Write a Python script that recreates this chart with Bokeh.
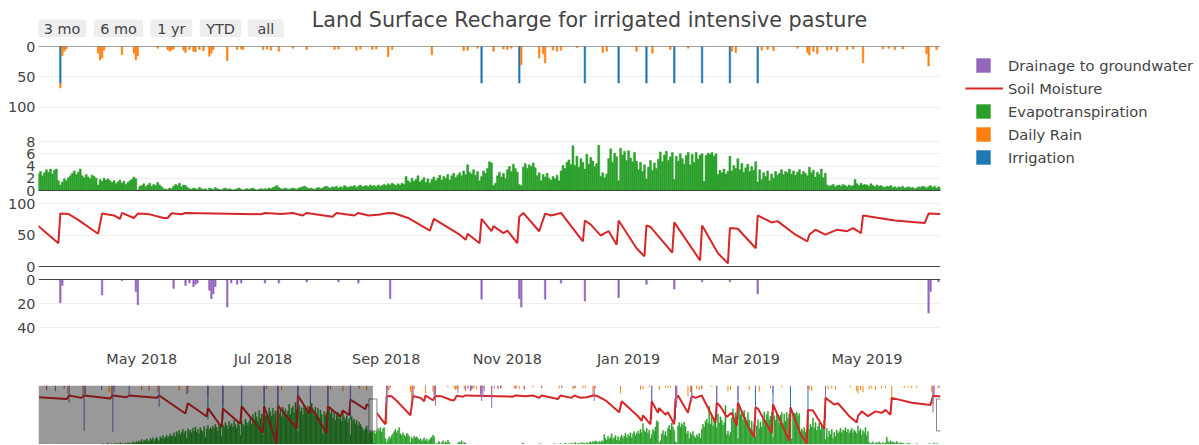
import pandas as pd
from bokeh.plotting import figure
from bokeh.layouts import column, row
from bokeh.models import (Range1d, FixedTicker, Span, BoxAnnotation, Legend,
                          LegendItem, DatetimeTickFormatter, Grid)
from bokeh.core.properties import value
from bokeh.embed import file_html
from bokeh.resources import INLINE

# ---------------------------------------------------------------- data
chart_title = "Land Surface Recharge for irrigated intensive pasture"
selector_labels = ["3 mo", "6 mo", "1 yr", "YTD", "all"]
series_names = ["Drainage to groundwater", "Soil Moisture", "Evapotranspiration",
                "Daily Rain", "Irrigation"]

data_start = "2017-06-16"
view_start = "2018-03-10"
view_end = "2019-06-07"

x_tick_months = ["2018-05-01", "2018-07-01", "2018-09-01", "2018-11-01",
                 "2019-01-01", "2019-03-01", "2019-05-01"]
rain_ticks = [0, 50, 100]
et_ticks = [0, 2, 4, 6, 8]
sm_ticks = [0, 50, 100]
drain_ticks = [0, 20, 40]

# daily evapotranspiration (mm), one list per month
et_2017_06 = [0.4, 0.3, 0.5, 0.2, 0.3, 0.4, 0.6, 0.3, 0.2, 0.4, 0.5, 0.3, 0.4, 0.2, 0.3]
et_2017_07 = [0.3, 0.5, 0.4, 0.2, 0.3, 0.6, 0.4, 0.3, 0.5, 0.2, 0.4, 0.3, 0.5, 0.6, 0.3,
              0.2, 0.4, 0.5, 0.3, 0.4, 0.6, 0.3, 0.2, 0.4, 0.5, 0.3, 0.4, 0.6, 0.5, 0.3, 0.4]
et_2017_08 = [0.5, 0.4, 0.6, 0.3, 0.5, 0.7, 0.4, 0.6, 0.5, 0.8, 0.4, 0.6, 0.7, 0.5, 0.6,
              0.8, 0.5, 0.7, 0.6, 0.9, 0.6, 0.7, 0.5, 0.8, 0.6, 0.9, 0.7, 0.8, 0.6, 1.0, 0.7]
et_2017_09 = [0.9, 1.1, 0.8, 1.2, 1.0, 1.4, 0.9, 1.3, 1.1, 1.5, 1.2, 1.0, 1.6, 1.3, 1.7,
              1.1, 1.5, 1.8, 1.4, 1.2, 1.9, 1.6, 2.1, 1.5, 1.8, 2.2, 1.7, 2.0, 2.4, 1.9]
et_2017_10 = [2.1, 2.6, 1.9, 2.8, 2.4, 3.0, 2.2, 2.7, 3.2, 2.5, 2.9, 1.6, 3.3, 2.8, 3.1,
              2.6, 3.4, 2.9, 3.6, 2.7, 3.2, 2.4, 3.5, 3.0, 2.8, 3.7, 1.8, 3.3, 3.9, 3.1, 3.5]
et_2017_11 = [3.2, 3.8, 3.4, 4.1, 3.6, 2.9, 4.3, 3.7, 1.9, 4.0, 3.5, 4.4, 3.9, 3.3, 4.6,
              3.8, 4.2, 3.6, 4.8, 4.0, 3.4, 4.5, 3.9, 2.1, 4.7, 4.1, 3.7, 5.0, 4.4, 3.9]
et_2017_12 = [4.6, 5.3, 4.1, 5.8, 4.9, 6.2, 5.4, 4.7, 6.5, 5.1, 5.9, 2.3, 6.8, 5.6, 6.1,
              5.2, 7.0, 6.3, 5.5, 6.9, 5.8, 6.4, 2.6, 7.3, 6.0, 6.7, 5.4, 7.1, 6.2, 6.8, 5.9]
et_2018_01 = [6.4, 7.6, 5.8, 6.9, 7.2, 6.1, 7.9, 6.6, 2.8, 7.4, 6.3, 7.0, 5.7, 7.5, 6.8,
              6.2, 7.3, 5.9, 6.7, 7.8, 6.4, 5.6, 7.1, 6.0, 6.9, 5.3, 6.6, 5.8, 2.4, 6.3, 5.7]
et_2018_02 = [6.1, 5.4, 6.8, 5.9, 6.5, 5.2, 6.3, 4.8, 5.7, 6.2, 5.0, 5.8, 4.6, 6.0, 5.3,
              4.9, 5.6, 4.4, 5.1, 2.2, 5.4, 4.7, 5.0, 4.2, 4.8, 3.9, 4.5, 4.1]
et_2018_03 = [3.6, 3.2, 2.9, 3.4, 3.8, 3.1, 2.6, 3.3, 2.8, 2.6, 3.1, 2.4, 2.9, 3.4, 3.0,
              3.5, 2.7, 3.3, 3.5, 1.6, 0.9, 1.4, 1.9, 1.6, 2.1, 2.4, 2.8, 3.2, 2.6, 3.0, 3.5]
et_2018_04 = [2.4, 2.1, 2.6, 2.2, 1.9, 2.5, 2.3, 2.0, 0.9, 1.8, 1.5, 2.0, 1.7, 1.9, 1.6,
              1.3, 1.6, 1.1, 1.4, 1.7, 1.2, 1.5, 1.0, 1.3, 1.6, 1.8, 2.2, 1.9, 0.1, 0.7]
et_2018_05 = [0.8, 1.1, 0.6, 0.9, 1.2, 0.7, 1.0, 0.8, 1.3, 0.9, 0.6, 0.3, 0.2, 0.2, 0.4,
              0.3, 0.7, 1.0, 0.8, 1.2, 0.6, 0.9, 0.8, 0.5, 0.3, 0.2, 0.4, 0.3, 0.2, 0.5, 0.3]
et_2018_06 = [0.2, 0.3, 0.1, 0.4, 0.3, 0.2, 0.5, 0.3, 0.2, 0.1, 0.3, 0.4, 0.2, 0.3, 0.2,
              0.1, 0.2, 0.3, 0.4, 0.2, 0.1, 0.2, 0.3, 0.2, 0.3, 0.4, 0.2, 0.1, 0.2, 0.3]
et_2018_07 = [0.2, 0.3, 0.2, 0.4, 0.3, 0.5, 0.6, 0.8, 0.5, 0.3, 0.2, 0.4, 0.3, 0.2, 0.3,
              0.4, 0.3, 0.2, 0.4, 0.5, 0.6, 0.7, 0.5, 0.3, 0.4, 0.3, 0.2, 0.4, 0.5, 0.3, 0.4]
et_2018_08 = [0.6, 0.7, 0.5, 0.4, 0.6, 0.5, 0.7, 0.4, 0.6, 0.5, 0.8, 0.6, 0.5, 0.7, 0.6,
              0.8, 0.5, 0.7, 0.9, 0.6, 0.7, 0.8, 0.6, 0.9, 0.7, 0.8, 0.6, 0.9, 0.7, 0.8, 1.0]
et_2018_09 = [0.8, 1.1, 0.9, 1.2, 1.0, 0.8, 1.1, 0.9, 1.2, 1.0, 2.3, 1.6, 1.3, 2.0, 1.5,
              1.8, 2.4, 1.4, 1.7, 2.1, 1.3, 1.9, 1.2, 1.8, 2.2, 1.6, 2.0, 2.5, 1.7, 2.3]
et_2018_10 = [2.0, 2.6, 1.7, 2.4, 2.8, 2.1, 2.5, 2.9, 2.4, 3.2, 2.6, 4.2, 3.0, 2.7, 3.4,
              2.5, 3.1, 1.6, 2.3, 3.2, 2.8, 3.6, 4.7, 4.5, 0.8, 1.2, 2.4, 3.0, 2.2, 2.8, 2.0]
et_2018_11 = [3.4, 3.9, 3.1, 4.3, 3.6, 3.0, 1.0, 0.8, 3.8, 4.4, 3.6, 4.2, 3.9, 4.5, 3.7,
              2.4, 2.9, 1.6, 2.6, 2.2, 2.8, 2.0, 1.7, 2.3, 1.9, 2.5, 1.6, 3.2, 4.1, 3.6]
et_2018_12 = [4.6, 5.0, 4.2, 7.3, 4.1, 5.6, 3.8, 5.2, 4.6, 3.5, 5.9, 4.3, 5.4, 4.8, 3.9,
              4.4, 7.4, 2.3, 2.9, 2.1, 2.7, 5.2, 6.8, 4.6, 6.1, 5.5, 1.6, 6.9, 5.8, 6.4, 4.9]
et_2019_01 = [6.5, 5.3, 4.7, 6.2, 4.8, 3.4, 4.6, 3.1, 4.2, 1.9, 3.8, 4.9, 3.3, 4.5, 3.6,
              5.1, 6.3, 4.7, 5.8, 6.4, 4.9, 5.5, 6.2, 1.8, 5.6, 4.8, 6.0, 5.2, 4.3, 5.7, 6.2]
et_2019_02 = [4.2, 5.9, 4.6, 6.2, 5.1, 5.8, 6.0, 1.5, 5.7, 6.1, 5.9, 6.2, 5.6, 6.0, 2.6,
              3.3, 2.9, 3.5, 2.7, 3.1, 5.6, 3.2, 4.1, 3.6, 5.2, 3.4, 4.4, 3.0]
et_2019_03 = [3.7, 4.3, 3.1, 3.9, 3.3, 4.7, 1.4, 3.4, 1.8, 2.9, 2.3, 3.2, 1.6, 2.7, 2.0,
              3.1, 2.5, 2.8, 3.4, 2.6, 3.1, 2.9, 3.5, 2.7, 3.2, 2.5, 3.0, 3.4, 2.6, 3.1, 2.8]
et_2019_04 = [2.4, 3.8, 2.9, 3.3, 2.2, 3.0, 2.6, 3.5, 2.1, 2.8, 0.9, 0.7, 0.8, 1.0, 0.6,
              0.8, 0.9, 0.7, 1.0, 0.8, 0.6, 0.9, 0.7, 0.8, 1.8, 1.1, 0.8, 1.2, 0.9, 1.0]
et_2019_05 = [0.9, 0.7, 1.1, 0.8, 0.6, 0.9, 0.7, 0.8, 0.6, 0.5, 0.7, 0.6, 0.8, 0.5, 0.6,
              0.4, 0.6, 0.5, 0.7, 0.4, 0.5, 0.6, 0.4, 0.5, 0.3, 0.4, 0.6, 0.5, 0.7, 0.6, 0.4]
et_2019_06 = [0.6, 0.8, 0.5, 0.7, 0.4, 0.6, 0.5]

# irrigation events (mm)
irr_dates = ["2017-10-29", "2017-11-10", "2017-11-25", "2017-12-13", "2017-12-24",
             "2018-01-09", "2018-01-19", "2018-02-02", "2018-02-20", "2018-03-21",
             "2018-10-19", "2018-11-07", "2018-12-10", "2018-12-27", "2019-01-10",
             "2019-01-24", "2019-02-07", "2019-02-21", "2019-03-07"]
irr_mm = [60, 60, 60, 60, 60, 60, 60, 60, 60, 60,
          60, 60, 60, 60, 60, 60, 60, 60, 60]

# daily rain events (mm)
rain_dates = ["2017-06-22", "2017-07-09", "2017-07-21", "2017-08-11", "2017-08-13",
              "2017-09-06", "2017-09-12", "2017-09-19", "2017-10-06", "2017-10-12",
              "2017-12-15", "2017-12-27", "2018-02-04", "2018-02-14", "2018-02-27",
              "2018-03-05", "2018-03-21", "2018-03-22", "2018-03-23", "2018-03-24",
              "2018-04-09", "2018-04-10", "2018-04-11", "2018-04-12", "2018-04-21",
              "2018-04-27", "2018-04-28", "2018-04-29", "2018-05-09", "2018-05-14",
              "2018-05-15", "2018-05-16", "2018-05-17", "2018-05-22", "2018-05-23",
              "2018-05-25", "2018-05-27", "2018-05-28", "2018-05-30", "2018-06-01",
              "2018-06-04", "2018-06-05", "2018-06-06", "2018-06-13", "2018-06-18",
              "2018-06-20", "2018-06-21", "2018-07-01", "2018-07-03", "2018-07-05",
              "2018-07-09", "2018-07-16", "2018-07-23", "2018-08-06", "2018-08-08",
              "2018-08-17", "2018-08-19", "2018-08-25", "2018-08-27", "2018-09-02",
              "2018-09-04", "2018-09-24", "2018-10-10", "2018-10-12", "2018-10-17",
              "2018-10-25", "2018-10-30", "2018-11-01", "2018-11-03", "2018-11-08",
              "2018-11-17", "2018-11-19", "2018-11-20", "2018-11-24", "2018-11-26",
              "2018-11-28", "2018-12-06", "2018-12-19", "2018-12-21", "2019-01-05",
              "2019-01-13", "2019-01-22", "2019-01-31", "2019-02-22", "2019-02-24",
              "2019-03-09", "2019-03-12", "2019-03-15", "2019-03-27", "2019-04-01",
              "2019-04-02", "2019-04-04", "2019-04-06", "2019-04-11", "2019-04-13",
              "2019-04-16", "2019-04-21", "2019-04-24", "2019-04-29", "2019-05-09",
              "2019-05-12", "2019-05-15", "2019-05-19", "2019-05-31", "2019-06-01",
              "2019-06-05"]
rain_mm = [9, 14, 20, 12, 18,
           8, 10, 12, 9, 16,
           6, 8, 7, 10, 6,
           8, 8, 15, 8, 4,
           11, 22, 19, 6, 13.5,
           11, 22, 15, 3, 5,
           8, 6, 4, 6, 10,
           5, 8, 9, 5, 7,
           16, 11, 5, 23, 5,
           4, 5, 5, 4, 6,
           8, 3, 5, 5, 4,
           6, 4, 5, 4, 17,
           5, 13.5, 7, 6, 3,
           8, 4, 5, 3, 30,
           19, 12, 27, 6, 8,
           6, 2, 10, 8, 8,
           11, 5, 3, 8, 10,
           6, 5, 7, 3, 10,
           14, 8, 12, 6, 5,
           8, 5, 4, 27, 4,
           3, 5, 4, 12, 32,
           5]

# soil moisture (mm), daily values at turning points
sm_dates = ["2017-06-16", "2017-07-08", "2017-07-10", "2017-07-20", "2017-07-22",
            "2017-08-12", "2017-08-14", "2017-08-25", "2017-08-27", "2017-09-18",
            "2017-09-20", "2017-10-11", "2017-10-13", "2017-10-28", "2017-10-29",
            "2017-11-09", "2017-11-10", "2017-11-24", "2017-11-25", "2017-12-12",
            "2017-12-13", "2017-12-23", "2017-12-24", "2018-01-08", "2018-01-09",
            "2018-01-18", "2018-01-19", "2018-02-01", "2018-02-02", "2018-02-12",
            "2018-02-14", "2018-02-19", "2018-02-20", "2018-03-04", "2018-03-05",
            "2018-03-10", "2018-03-20", "2018-03-21", "2018-03-25", "2018-03-30",
            "2018-04-09", "2018-04-11", "2018-04-17", "2018-04-20", "2018-04-21",
            "2018-04-27", "2018-04-29", "2018-05-04", "2018-05-12", "2018-05-14",
            "2018-05-16", "2018-05-21", "2018-05-23", "2018-06-30", "2018-07-02",
            "2018-07-10", "2018-07-16", "2018-07-21", "2018-07-23", "2018-08-05",
            "2018-08-07", "2018-08-16", "2018-08-18", "2018-08-23", "2018-08-28",
            "2018-09-02", "2018-09-05", "2018-09-12", "2018-09-23", "2018-09-25",
            "2018-10-08", "2018-10-11", "2018-10-12", "2018-10-18", "2018-10-19",
            "2018-10-24", "2018-10-25", "2018-10-30", "2018-11-01", "2018-11-06",
            "2018-11-07", "2018-11-09", "2018-11-17", "2018-11-20", "2018-11-23",
            "2018-11-28", "2018-12-09", "2018-12-10", "2018-12-13", "2018-12-18",
            "2018-12-20", "2018-12-22", "2018-12-26", "2018-12-27", "2019-01-05",
            "2019-01-09", "2019-01-10", "2019-01-12", "2019-01-23", "2019-01-24",
            "2019-02-06", "2019-02-07", "2019-02-15", "2019-02-20", "2019-02-21",
            "2019-02-25", "2019-03-06", "2019-03-07", "2019-03-14", "2019-03-17",
            "2019-03-26", "2019-04-01", "2019-04-02", "2019-04-05", "2019-04-10",
            "2019-04-16", "2019-04-21", "2019-04-24", "2019-04-28", "2019-04-29",
            "2019-05-15", "2019-05-30", "2019-06-01", "2019-06-07"]
sm_mm = [82, 79, 85, 81, 85,
         80, 85, 82, 85, 81,
         85, 55, 72, 50, 64,
         32, 63, 38, 67, 23,
         67, 5, 68, 30, 85,
         55, 67, 22, 67, 50,
         60, 52, 78, 62, 70,
         64, 37, 84, 83.5, 74,
         52, 84, 81, 75.5, 85,
         77, 84, 83.5, 77, 77,
         84.5, 83, 85, 83, 85,
         83.5, 85, 81, 85, 79,
         85, 81, 85, 81, 82,
         85, 84.5, 77, 57, 75.5,
         50.5, 42.5, 52, 37, 75.5,
         56, 64, 53, 57, 37,
         79, 85, 56, 84, 81,
         85, 40, 73, 66.5, 49,
         53, 56, 34.5, 73, 29,
         16, 65, 63, 22, 70,
         9.6, 65, 21, 5, 61,
         60, 29, 81, 70, 72,
         50.5, 40, 50.5, 58.5, 50.5,
         58.5, 56, 61, 53, 81,
         73, 69, 84, 83.5]

# drainage to groundwater (mm)
drain_dates = ["2017-06-22", "2017-06-29", "2017-07-06", "2017-07-10", "2017-07-22",
               "2017-07-23", "2017-08-05", "2017-08-14", "2017-08-15", "2017-08-27",
               "2017-09-20", "2017-10-13", "2017-10-29", "2017-11-10", "2017-11-25",
               "2017-12-13", "2017-12-24", "2018-01-09", "2018-01-19", "2018-02-02",
               "2018-02-20", "2018-03-21", "2018-03-22", "2018-04-11", "2018-04-21",
               "2018-04-28", "2018-04-29", "2018-05-17", "2018-05-23", "2018-05-25",
               "2018-05-27", "2018-05-28", "2018-05-29", "2018-06-04", "2018-06-05",
               "2018-06-06", "2018-06-07", "2018-06-13", "2018-06-15", "2018-06-18",
               "2018-06-20", "2018-07-02", "2018-07-09", "2018-07-23", "2018-08-08",
               "2018-08-18", "2018-09-03", "2018-10-19", "2018-11-07", "2018-11-08",
               "2018-11-20", "2018-11-28", "2018-12-10", "2018-12-27", "2019-01-10",
               "2019-01-24", "2019-02-07", "2019-02-21", "2019-03-07", "2019-06-01",
               "2019-06-02", "2019-06-06"]
drain_mm = [4, 6, 3, 18, 47,
            9, 5, 48, 7, 12,
            22, 8, 12, 20, 14,
            18, 25, 22, 15, 20,
            28, 19.5, 5, 13, 1,
            10, 21, 7.5, 5, 3,
            6, 4, 3, 9, 16,
            12, 6, 23, 3, 4,
            3, 3, 3, 2, 2,
            3, 16, 16.5, 16, 23,
            16.5, 3, 18, 15, 4,
            8, 2, 2, 12, 28,
            10, 2]

# ---------------------------------------------------------------- build columns
et_months = [("2017-06-16", et_2017_06), ("2017-07-01", et_2017_07), ("2017-08-01", et_2017_08),
             ("2017-09-01", et_2017_09), ("2017-10-01", et_2017_10), ("2017-11-01", et_2017_11),
             ("2017-12-01", et_2017_12), ("2018-01-01", et_2018_01), ("2018-02-01", et_2018_02),
             ("2018-03-01", et_2018_03), ("2018-04-01", et_2018_04), ("2018-05-01", et_2018_05),
             ("2018-06-01", et_2018_06), ("2018-07-01", et_2018_07), ("2018-08-01", et_2018_08),
             ("2018-09-01", et_2018_09), ("2018-10-01", et_2018_10), ("2018-11-01", et_2018_11),
             ("2018-12-01", et_2018_12), ("2019-01-01", et_2019_01), ("2019-02-01", et_2019_02),
             ("2019-03-01", et_2019_03), ("2019-04-01", et_2019_04), ("2019-05-01", et_2019_05),
             ("2019-06-01", et_2019_06)]
et_x, et_y = [], []
for start, vals in et_months:
    s = pd.Timestamp(start)
    n = min(len(vals), s.days_in_month - s.day + 1)
    et_x.extend(pd.date_range(s, periods=n, freq="D"))
    et_y.extend(vals[:n])

et_df = pd.DataFrame({"x": pd.to_datetime(et_x), "v": et_y})
irr_df = pd.DataFrame({"x": pd.to_datetime(irr_dates), "v": irr_mm})
irr_lookup = dict(zip(irr_df["x"], irr_df["v"]))
rain_df = pd.DataFrame({"x": pd.to_datetime(rain_dates), "v": rain_mm})
rain_df["bottom"] = [irr_lookup.get(d, 0) for d in rain_df["x"]]
rain_df["top"] = rain_df["bottom"] + rain_df["v"]
sm_df = pd.DataFrame({"x": pd.to_datetime(sm_dates), "v": sm_mm})
drain_df = pd.DataFrame({"x": pd.to_datetime(drain_dates), "v": drain_mm})

t_start = pd.Timestamp(data_start) - pd.Timedelta(hours=12)
t_view0 = pd.Timestamp(view_start)
t_view1 = pd.Timestamp(view_end)

# rows that fall inside the main window (the slider keeps everything)
lo = t_view0 - pd.Timedelta(days=1)
et_v = et_df[et_df["x"] >= lo]
irr_v = irr_df[irr_df["x"] >= lo]
rain_v = rain_df[rain_df["x"] >= lo]
drain_v = drain_df[drain_df["x"] >= lo]
first_sm = max(0, int((sm_df["x"] < t_view0).sum()) - 1)
sm_v = sm_df.iloc[first_sm:]

# ---------------------------------------------------------------- styling / layout
FONT = "DejaVu Sans"
TXT = "#444444"
C_IRR, C_RAIN, C_ET, C_SM, C_DR = "#1f77b4", "#ff7f0e", "#2ca02c", "#d62728", "#9467bd"
DAY = 86400000
BAR_W = 0.8 * DAY
FIG_W = 948
LEFT, RIGHT = 38, 8
FRAME_W = FIG_W - LEFT - RIGHT
TICK_PX = "14.4px"
FRAME_H = 293           # height of the stacked-panel plotting area

# panel bands inside the stacked area: (zero line offset from top, px per unit, grows downward)
BAND_RAIN = (0.0, 0.609, True)
BAND_ET = (144.0, 6.125, False)
BAND_SM = (220.0, 0.63, False)
BAND_DR = (233.0, 1.2, True)


def band_range(band):
    zero, ppu, down = band
    if down:
        return Range1d(start=(FRAME_H - zero) / ppu, end=-zero / ppu)
    return Range1d(start=(zero - FRAME_H) / ppu, end=zero / ppu)


def band_px(band, v):
    zero, ppu, down = band
    return round(zero + v * ppu if down else zero - v * ppu, 3)


# ---------------------------------------------------------------- header
# header coordinates: x in pixels from the plotting-area left edge, y in pixels from top
header = figure(width=FIG_W, height=37, x_range=Range1d(0, FRAME_W), y_range=Range1d(37, 0),
                x_axis_location=None, y_axis_location=None, output_backend="svg",
                toolbar_location=None, min_border_left=LEFT, min_border_right=RIGHT,
                min_border_top=0, min_border_bottom=0)
header.outline_line_color = None
header.grid.grid_line_color = None
btn_left = [-0.7, 55.3, 112.0, 161.3, 209.3]
btn_right = [48.0, 104.7, 153.7, 202.7, 245.3]
for l, r in zip(btn_left, btn_right):
    header.add_layout(BoxAnnotation(left=l, right=r, top=19, bottom=37, fill_color="#eeeeee",
                                    fill_alpha=1, line_color=None, border_radius=3,
                                    level="underlay"))
header.text(x=[(l + r) / 2 for l, r in zip(btn_left, btn_right)], y=[28] * 5,
            text=selector_labels, text_align="center", text_baseline="middle",
            text_font=value(FONT), text_font_size=TICK_PX, text_color=TXT)
header.text(x=[551], y=[19.5], text=[chart_title], text_align="center", text_baseline="middle",
            text_font=value(FONT), text_font_size="20.7px", text_color=TXT)

# ---------------------------------------------------------------- stacked panels
pm = figure(width=FIG_W, height=343, x_range=Range1d(t_view0, t_view1),
            y_range=Range1d(FRAME_H, 0), x_axis_type="datetime",
            output_backend="svg", toolbar_location=None,
            min_border_left=LEFT, min_border_right=RIGHT, min_border_top=9,
            min_border_bottom=41)
pm.outline_line_color = None
pm.xgrid.grid_line_color = None
pm.ygrid.grid_line_color = None
pm.extra_y_ranges = {"rain": band_range(BAND_RAIN), "et": band_range(BAND_ET),
                     "sm": band_range(BAND_SM), "dr": band_range(BAND_DR)}

panel_defs = [("rain", BAND_RAIN, rain_ticks), ("et", BAND_ET, et_ticks),
              ("sm", BAND_SM, sm_ticks), ("dr", BAND_DR, drain_ticks)]
tick_pos, tick_lab = [], {}
for name, band, ticks in panel_defs:
    pm.add_layout(Grid(dimension=1, ticker=FixedTicker(ticks=[t for t in ticks if t != 0]),
                       y_range_name=name, grid_line_color="#eeeeee", grid_line_width=1))
    for t in ticks:
        pos = band_px(band, t)
        tick_pos.append(pos)
        tick_lab[pos] = str(t)

pm.vbar(x=irr_v["x"], top=irr_v["v"], bottom=0, width=BAR_W, fill_color=C_IRR,
        line_color=C_IRR, line_width=0.5, y_range_name="rain")
pm.vbar(x=rain_v["x"], top=rain_v["top"], bottom=rain_v["bottom"], width=BAR_W,
        fill_color=C_RAIN, line_color=C_RAIN, line_width=0.5, y_range_name="rain")
pm.vbar(x=et_v["x"], top=et_v["v"], bottom=0, width=DAY, fill_color=C_ET, line_color=C_ET,
        line_width=0.5, y_range_name="et")
pm.line(x=sm_v["x"], y=sm_v["v"], line_color=C_SM, line_width=2, y_range_name="sm")
pm.vbar(x=drain_v["x"], top=drain_v["v"], bottom=0, width=BAR_W, fill_color=C_DR,
        line_color=C_DR, line_width=0.5, y_range_name="dr")

for name, band, ticks in panel_defs:
    pm.add_layout(Span(location=0, dimension="width", y_range_name=name,
                       line_color=TXT, line_width=1))

ya = pm.yaxis[0]
ya.ticker = FixedTicker(ticks=tick_pos)
ya.major_label_overrides = tick_lab
ya.axis_line_color = None
ya.major_tick_line_color = None
ya.minor_tick_line_color = None
ya.major_tick_out = 0
ya.major_label_standoff = 3
ya.major_label_text_font = FONT
ya.major_label_text_font_size = TICK_PX
ya.major_label_text_color = TXT

xa = pm.xaxis[0]
xa.ticker = FixedTicker(ticks=[pd.Timestamp(m).value // 10**6 for m in x_tick_months])
fmt = "%b %Y"
xa.formatter = DatetimeTickFormatter(microseconds=fmt, milliseconds=fmt, seconds=fmt,
                                     minsec=fmt, minutes=fmt, hourmin=fmt, hours=fmt,
                                     days=fmt, months=fmt, years=fmt)
xa.axis_line_color = None
xa.major_tick_line_color = None
xa.minor_tick_line_color = None
xa.major_tick_out = 0
xa.major_label_standoff = 11
xa.major_label_text_font = FONT
xa.major_label_text_font_size = TICK_PX
xa.major_label_text_color = TXT

# ---------------------------------------------------------------- range slider
ps = figure(width=FIG_W, height=64, x_range=Range1d(t_start, t_view1),
            y_range=Range1d(3.3, 101.6), x_axis_type="datetime",
            x_axis_location=None, y_axis_location=None,
            output_backend="svg", toolbar_location=None,
            min_border_left=LEFT, min_border_right=RIGHT, min_border_top=5, min_border_bottom=0)
ps.outline_line_color = None
ps.grid.grid_line_color = None
ps.extra_y_ranges = {"rain": Range1d(104, 0), "et": Range1d(0.53, 10.9), "dr": Range1d(61, 0)}
ps.vbar(x=irr_df["x"], top=irr_df["v"], bottom=0, width=BAR_W, fill_color=C_IRR,
        line_color=None, y_range_name="rain")
ps.vbar(x=rain_df["x"], top=rain_df["top"], bottom=rain_df["bottom"], width=BAR_W,
        fill_color=C_RAIN, line_color=None, y_range_name="rain")
ps.vbar(x=et_df["x"], top=et_df["v"], bottom=0, width=DAY, fill_color=C_ET, line_color=C_ET,
        line_width=0.3, y_range_name="et")
ps.line(x=sm_df["x"], y=sm_df["v"], line_color=C_SM, line_width=2)
ps.vbar(x=drain_df["x"], top=drain_df["v"], bottom=0, width=BAR_W, fill_color=C_DR,
        line_color=None, y_range_name="dr")
ps.add_layout(BoxAnnotation(left=t_start.value // 10**6, right=t_view0.value // 10**6,
                            fill_color="black", fill_alpha=0.4, line_color=None))
mid = (ps.y_range.start + ps.y_range.end) / 2
ps.rect(x=[t_view0, t_view1], y=[mid, mid], width=8, height=32, width_units="screen",
        height_units="screen", fill_color="white", line_color="#888888", line_width=1)

# ---------------------------------------------------------------- legend
LEG_H = 200
pl = figure(width=247, height=LEG_H, x_range=Range1d(0, 1), y_range=Range1d(0, 1),
            x_axis_location=None, y_axis_location=None, output_backend="svg",
            toolbar_location=None, min_border=0)
pl.outline_line_color = None
pl.grid.grid_line_color = None
nan = float("nan")
r_dr = pl.vbar(x=[nan], top=[nan], width=1, fill_color=C_DR, line_color=None)
r_sm = pl.line(x=[nan], y=[nan], line_color=C_SM, line_width=2)
r_et = pl.vbar(x=[nan], top=[nan], width=1, fill_color=C_ET, line_color=None)
r_rn = pl.vbar(x=[nan], top=[nan], width=1, fill_color=C_RAIN, line_color=None)
r_ir = pl.vbar(x=[nan], top=[nan], width=1, fill_color=C_IRR, line_color=None)
item_cy = [65, 88, 111, 134, 157]
for name, rend, cy in zip(series_names, [r_dr, r_sm, r_et, r_rn, r_ir], item_cy):
    is_line = rend is r_sm
    gw = 38 if is_line else 18
    left = 17 if is_line else 26
    standoff = 5 if is_line else 16
    pl.add_layout(Legend(items=[LegendItem(label=name, renderers=[rend])],
                         location=(left, LEG_H - cy - 9), margin=0, padding=0, spacing=0,
                         glyph_width=gw, glyph_height=18, label_height=18,
                         label_standoff=standoff, border_line_color=None,
                         background_fill_alpha=0, label_text_font=FONT,
                         label_text_font_size="14.7px", label_text_color=TXT))

layout = row(column(header, pm, ps), pl)
open("out.html", "w").write(file_html(layout, INLINE, title=chart_title))
